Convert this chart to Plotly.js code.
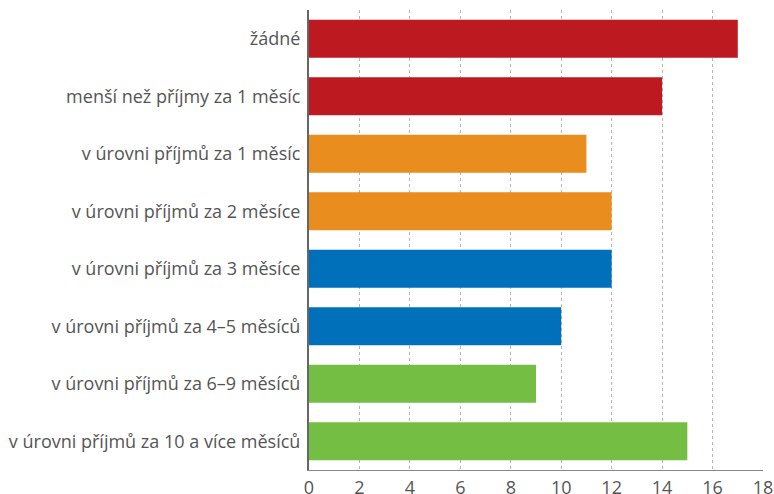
<!DOCTYPE html>
<html><head><meta charset="utf-8">
<script src="https://cdn.plot.ly/plotly-3.0.1.min.js"></script>
<style>html,body{margin:0;padding:0;background:#fff}</style>
</head><body>
<div id="chart" style="width:774px;height:494px"></div>
<script>
const categories = [
  "žádné",
  "menší než příjmy za 1 měsíc",
  "v úrovni příjmů za 1 měsíc",
  "v úrovni příjmů za 2 měsíce",
  "v úrovni příjmů za 3 měsíce",
  "v úrovni příjmů za 4–5 měsíců",
  "v úrovni příjmů za 6–9 měsíců",
  "v úrovni příjmů za 10 a více měsíců"
];
const values = [17, 14, 11, 12, 12, 10, 9, 15];
const barColors = ["#BC1A20", "#BC1A20", "#E88D1E", "#E88D1E", "#0070BA", "#0070BA", "#74BE44", "#74BE44"];
const tickVals = [0, 2, 4, 6, 8, 10, 12, 14, 16, 18];

Plotly.newPlot("chart", [{
  type: "bar",
  orientation: "h",
  y: categories,
  x: values,
  marker: {color: barColors},
  hoverinfo: "none"
}], {
  width: 774, height: 494,
  margin: {l: 309, r: 11, t: 10, b: 24, pad: 0},
  paper_bgcolor: "#fff", plot_bgcolor: "#fff",
  bargap: 0.34,
  showlegend: false,
  font: {family: "Open Sans, Noto Sans, sans-serif", size: 18, color: "#555"},
  xaxis: {
    range: [0, 18], tickvals: tickVals, ticks: "",
    showgrid: true, gridcolor: "#b5b5b5", griddash: "3px,3px", gridwidth: 1,
    zeroline: false, showline: true, linecolor: "#888", linewidth: 1,
    tickfont: {size: 18, color: "#555"}, ticklabelstandoff: 1
  },
  yaxis: {
    autorange: "reversed", ticks: "", showgrid: false, zeroline: false,
    showline: true, linecolor: "#666", linewidth: 2,
    tickfont: {size: 18, color: "#555"}, ticklabelstandoff: 3
  }
}, {displayModeBar: false, staticPlot: true});
</script>
</body></html>
